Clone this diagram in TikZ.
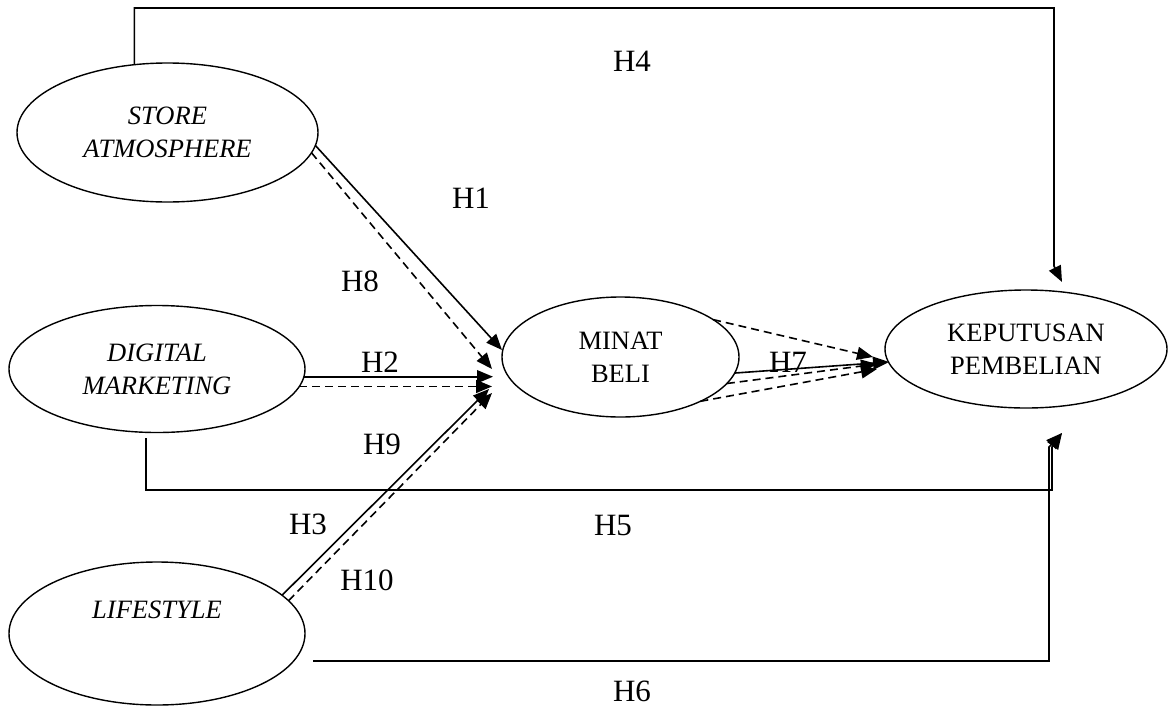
\documentclass[tikz,border=0pt]{standalone}
\usepackage{fontspec}
\setmainfont{Liberation Serif}
\usetikzlibrary{shapes.geometric,arrows.meta}
\begin{document}
\begin{tikzpicture}[x=1pt,y=-1pt,
  ell/.style={draw, ellipse, line width=1.4pt, inner sep=0pt, outer sep=0pt, align=center, font=\fontsize{26.5}{33}\selectfont},
  txt/.style={inner sep=0pt, font=\fontsize{26.5}{33}\selectfont},
  lbl/.style={inner sep=0pt, font=\fontsize{31}{36}\selectfont},
  conn/.style={line width=1.6pt},
  dconn/.style={line width=1.6pt, dash pattern=on 8pt off 5pt},
  tip/.style={-{Triangle[length=16pt,width=13pt]}}]
\useasboundingbox (0,0) rectangle (1169,707);

% ellipses
\node[ell, minimum width=301pt, minimum height=139pt] (sa) at (167.5,132.5) {\textit{STORE}\\\textit{ATMOSPHERE}};
\node[ell, minimum width=296pt, minimum height=127pt] (dm) at (157,369) {\textit{DIGITAL}\\\textit{MARKETING}};
\node[ell, minimum width=296pt, minimum height=143pt] (ls) at (157,633.5) {};
\node[txt] (lst) at (157,610) {\textit{LIFESTYLE}};
\node[ell, minimum width=237pt, minimum height=120pt] (mb) at (620.5,357) {MINAT\\BELI};
\node[ell, minimum width=282pt, minimum height=118pt] (kp) at (1026,349) {KEPUTUSAN\\PEMBELIAN};

% free ends
\coordinate (c4a) at (1054,8);
\coordinate (c4b) at (1054,266);
\coordinate (e4) at (1062,282);
\coordinate (e1) at (502,350);
\coordinate (e8) at (492,369);
\coordinate (e2) at (493,377);
\coordinate (e2d) at (492,388);
\coordinate (e3) at (489,389);
\coordinate (e10) at (492,393);
\coordinate (s5) at (146,438);
\coordinate (c5) at (1052,490);
\coordinate (c5b) at (1052,447);
\coordinate (e5) at (1062,433);
\coordinate (s6) at (313,661);
\coordinate (c6) at (1049,661);
\coordinate (c6b) at (1049,447);
\coordinate (e7) at (889,362);
\coordinate (e7a) at (873,357);
\coordinate (e7b) at (877,364);
\coordinate (e7c) at (877,369);

% connectors
\draw[conn,tip] (sa.116.6) |- (c4a) -- (c4b) -- (e4);
\draw[conn,tip] (sa.-5) -- (e1);
\draw[dconn,tip] (sa.-8.5) -- (e8);
\draw[conn,tip] (dm.-3.1) -- (dm.-3.1 -| e2);
\draw[dconn,tip] (dm.-7.7) -- (dm.-7.7 -| e2d);
\draw[conn,tip] (ls.17.7) -- (e3);
\draw[dconn,tip] (ls.14.5) -- (e10);
\draw[conn,tip] (s5) |- (c5) -- (c5b) -- (e5);
\draw[conn,tip] (s6) -- (c6) -- (c6b) -- (e5);
\draw[conn,tip] (mb.-8.7) -- (e7);
\draw[dconn,tip] (mb.22) -- (e7a);
\draw[dconn,tip] (mb.-14.9) -- (e7b);
\draw[dconn,tip] (mb.-29.5) -- (e7c);

% labels
\node[lbl] (l4) at (632,61) {H4};
\node[lbl] (l1) at (471,198) {H1};
\node[lbl] (l8) at (360,281) {H8};
\node[lbl] (l2) at (380,362) {H2};
\node[lbl] (l9) at (382,444) {H9};
\node[lbl] (l3) at (308,524) {H3};
\node[lbl] (l10) at (367,580) {H10};
\node[lbl] (l5) at (613,525) {H5};
\node[lbl] (l6) at (632,691) {H6};
\node[lbl] (l7) at (788,362) {H7};
\end{tikzpicture}
\end{document}
